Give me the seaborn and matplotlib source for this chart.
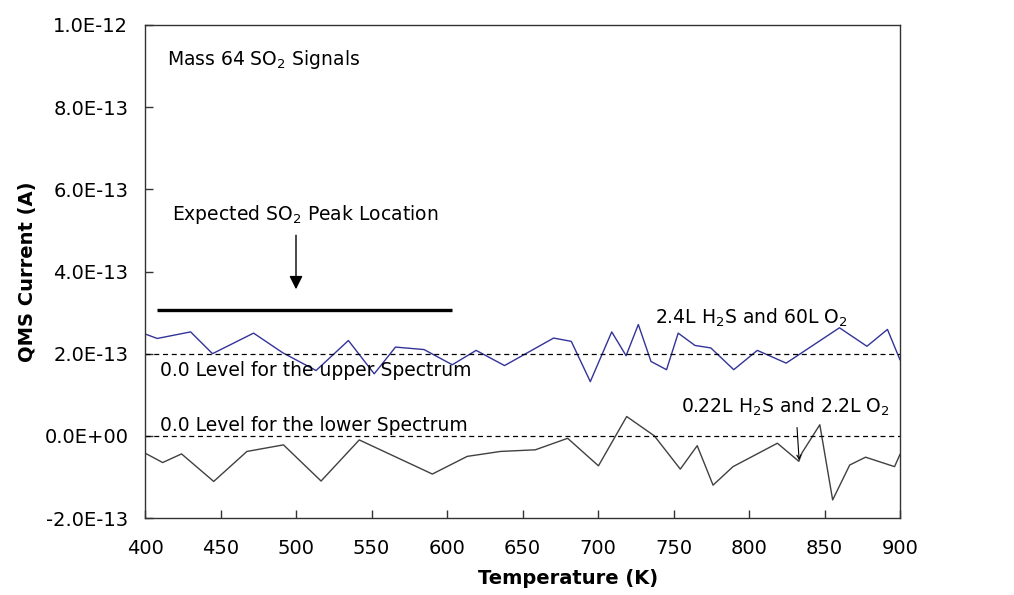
import matplotlib
matplotlib.use("Agg")
import matplotlib.pyplot as plt
import matplotlib.ticker as mticker
import numpy as np
import pandas as pd
import seaborn as sns

# ---- data (current in units of 1e-13 A) ----
temp_upper = [400.0, 408.1, 430.2, 444.7, 471.9, 491.3, 513.3, 534.7, 551.8, 565.9,
              584.8, 603.5, 619.3, 638.1, 670.6, 682.3, 694.9, 709.1, 718.6, 726.7,
              735.1, 745.4, 753.1, 764.2, 774.7, 789.9, 805.5, 824.6, 859.9, 878.1,
              891.7, 900.0]
cur_upper = [2.48, 2.37, 2.53, 2.00, 2.50, 2.02, 1.59, 2.32, 1.51, 2.16,
             2.10, 1.73, 2.08, 1.71, 2.38, 2.30, 1.32, 2.53, 1.95, 2.71,
             1.81, 1.61, 2.50, 2.20, 2.14, 1.61, 2.08, 1.77, 2.63, 2.18,
             2.59, 1.85]

temp_lower = [400.0, 411.7, 424.2, 445.5, 467.5, 491.7, 516.6, 541.9, 590.3, 613.4,
              635.4, 658.5, 679.9, 700.3, 719.0, 737.3, 754.5, 765.7, 776.2, 789.4,
              818.8, 833.0, 835.0, 846.9, 855.4, 866.7, 877.2, 896.4, 900.0]
cur_lower = [-0.42, -0.65, -0.44, -1.11, -0.38, -0.22, -1.10, -0.10, -0.93, -0.50,
             -0.38, -0.34, -0.06, -0.73, 0.47, 0.00, -0.81, -0.24, -1.20, -0.75,
             -0.18, -0.62, -0.42, 0.27, -1.56, -0.71, -0.52, -0.75, -0.45]

x_ticks = [400, 450, 500, 550, 600, 650, 700, 750, 800, 850, 900]
y_ticks = [-2e-13, 0, 2e-13, 4e-13, 6e-13, 8e-13, 1e-12]
zero_levels = [2e-13, 0.0]

SCALE = 1e-13
df_u = pd.DataFrame({"T": temp_upper, "I": np.array(cur_upper) * SCALE})
df_l = pd.DataFrame({"T": temp_lower, "I": np.array(cur_lower) * SCALE})

sns.set_style("white")
plt.rcParams["font.family"] = ["DejaVu Sans"]
plt.rcParams["text.color"] = "black"
plt.rcParams["axes.labelcolor"] = "black"
plt.rcParams["xtick.color"] = "black"
plt.rcParams["ytick.color"] = "black"

fig = plt.figure(figsize=(10.14, 5.95), dpi=100)
ax = fig.add_axes([145 / 1014, 1 - 518 / 595, 755 / 1014, 493 / 595])

sns.lineplot(data=df_u, x="T", y="I", color="#333399", lw=1.0, ax=ax)
sns.lineplot(data=df_l, x="T", y="I", color="#404040", lw=1.0, ax=ax)

for lvl in zero_levels:
    ax.axhline(lvl, color="black", lw=0.9, ls=(0, (4, 3)))

# expected peak bar + arrow
ax.plot([408, 603], [3.07e-13, 3.07e-13], color="black", lw=2.4, solid_capstyle="butt")
ax.annotate("", xy=(500, 3.50e-13), xytext=(500, 4.95e-13),
            arrowprops=dict(arrowstyle="-|>", color="black", lw=1.0, mutation_scale=20))
ax.annotate("", xy=(833.3, -0.66e-13), xytext=(831.7, 0.27e-13),
            arrowprops=dict(arrowstyle="->", color="black", lw=0.8, mutation_scale=7))

fs = 13.5
ax.text(414.6, 9.17e-13, "Mass 64 SO$_2$ Signals", fontsize=fs, va="center", ha="left")
ax.text(418, 5.39e-13, "Expected SO$_2$ Peak Location", fontsize=fs, va="center", ha="left")
ax.text(737.5, 2.88e-13, "2.4L H$_2$S and 60L O$_2$", fontsize=fs, va="center", ha="left")
ax.text(410, 1.60e-13, "0.0 Level for the upper Spectrum", fontsize=fs, va="center", ha="left")
ax.text(410, 0.25e-13, "0.0 Level for the lower Spectrum", fontsize=fs, va="center", ha="left")
ax.text(755, 0.71e-13, "0.22L H$_2$S and 2.2L O$_2$", fontsize=fs, va="center", ha="left")

ax.set_xlim(400, 900)
ax.set_ylim(-2e-13, 1e-12)
ax.set_xticks(x_ticks)
ax.set_yticks(y_ticks)
ax.yaxis.set_major_formatter(mticker.FuncFormatter(lambda v, p: f"{v:.1E}"))
ax.tick_params(axis="both", direction="in", length=6, width=1, color="#333333",
               labelsize=14, bottom=True, left=True, labelcolor="black")
ax.tick_params(axis="x", pad=15)
ax.tick_params(axis="y", pad=12)

for s in ax.spines.values():
    s.set_color("#333333")
    s.set_linewidth(1.0)

ax.set_xlabel("Temperature (K)", fontsize=14, fontweight="bold")
ax.set_ylabel("QMS Current (A)", fontsize=14, fontweight="bold")
ax.xaxis.set_label_coords(0.56, -0.104)
ax.yaxis.set_label_coords(-0.143, 0.5)

fig.savefig("out.png", dpi=100)
